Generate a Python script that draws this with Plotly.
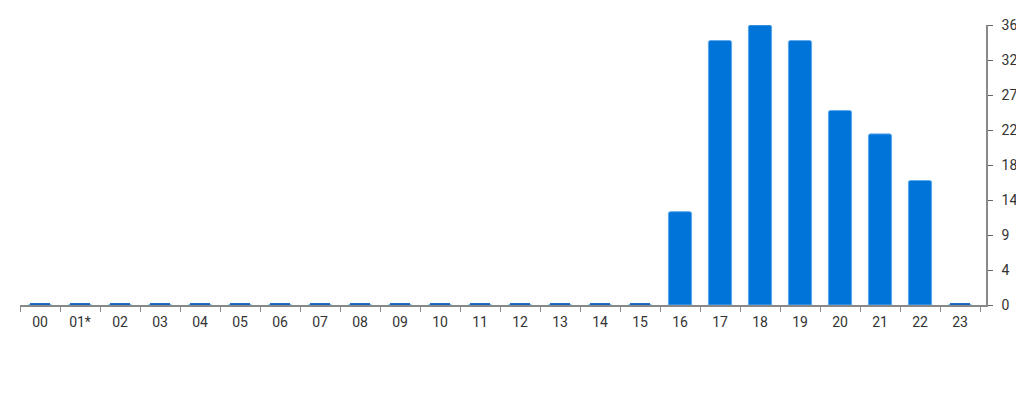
import plotly.graph_objects as go

# hour-of-day categories and counts
hours = ["00", "01*", "02", "03", "04", "05", "06", "07", "08", "09", "10", "11",
         "12", "13", "14", "15", "16", "17", "18", "19", "20", "21", "22", "23"]
counts = [0, 0, 0, 0, 0, 0, 0, 0, 0, 0, 0, 0,
          0, 0, 0, 0, 12, 34, 36, 34, 25, 22, 16, 0]

y_max = 36
tick_vals = [i * y_max / 8 for i in range(9)]
tick_text = [str(round(v)) for v in tick_vals]

# small stub for empty hours so they stay visible on the axis
stub = [0.45 if c == 0 else None for c in counts]

fig = go.Figure()
fig.add_trace(go.Bar(
    x=hours, y=counts, width=0.58,
    marker=dict(color="#0074d9", line=dict(color="#5eabef", width=1), cornerradius=2),
))
fig.add_trace(go.Bar(
    x=hours, y=stub, base=-0.2, width=0.5,
    marker=dict(color="#1565c0", line=dict(width=0)),
))

# page body adds an 8px margin, so the figure is sized to fit inside it
fig.update_layout(
    width=1008, height=384,
    margin=dict(l=12, r=30, t=17, b=87, autoexpand=False),
    barmode="overlay",
    showlegend=False,
    plot_bgcolor="white", paper_bgcolor="white",
    font=dict(family="Roboto", size=14, color="#333333"),
)
fig.update_xaxes(
    type="category", range=[-0.5, 23.65], automargin=False,
    showgrid=False, showline=True, linecolor="#888888", linewidth=1.5,
    ticks="outside", tickson="boundaries", ticklen=5, tickcolor="#888888",
    ticklabelstandoff=3,
    zeroline=False,
)
fig.update_yaxes(
    side="right", range=[0, y_max], automargin=False,
    tickvals=tick_vals, ticktext=tick_text,
    showgrid=False, showline=True, linecolor="#888888", linewidth=1.5,
    ticks="outside", ticklen=5, tickcolor="#666666",
    ticklabelstandoff=6,
    zeroline=False,
)

fig.write_html("out.html")
